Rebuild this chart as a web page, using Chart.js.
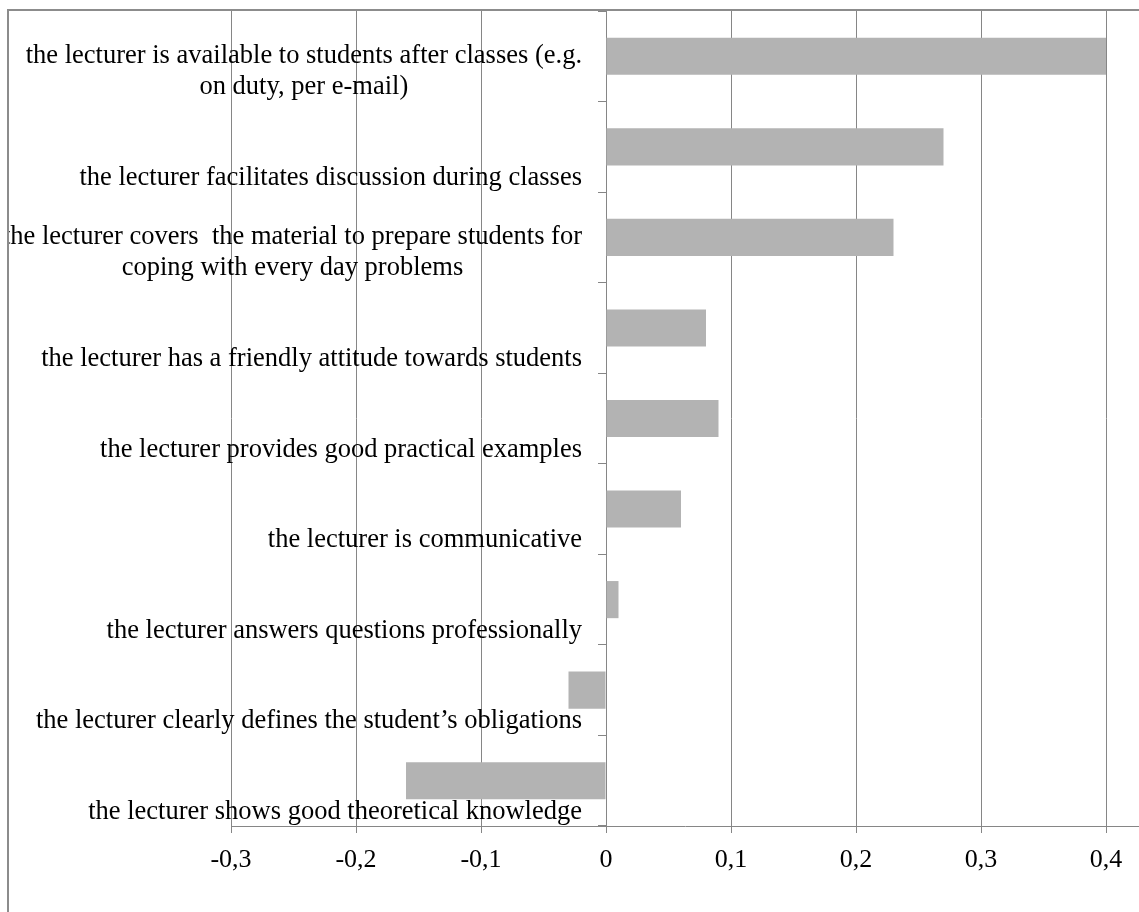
<!DOCTYPE html>
<html>
<head>
<meta charset="utf-8">
<title>Lecturer characteristics</title>
<script src="https://cdn.jsdelivr.net/npm/chart.js@4.4.1/dist/chart.umd.min.js"></script>
<style>
    html, body { margin: 0; padding: 0; background: #fff; overflow: hidden; }
    #wrap { width: 1139px; height: 912px; }
</style>
</head>
<body>
<div id="wrap"><canvas id="chart" width="1139" height="912"></canvas></div>
<script>
// Categories top to bottom, each one split into its printed lines
const categories = [
    ['the lecturer is available to students after classes (e.g.', 'on duty, per e-mail)'],
    ['the lecturer facilitates discussion during classes'],
    ['the lecturer covers  the material to prepare students for', 'coping with every day problems'],
    ['the lecturer has a friendly attitude towards students'],
    ['the lecturer provides good practical examples'],
    ['the lecturer is communicative'],
    ['the lecturer answers questions professionally'],
    ['the lecturer clearly defines the student\u2019s obligations'],
    ['the lecturer shows good theoretical knowledge']
];
const values = [0.40, 0.27, 0.23, 0.08, 0.09, 0.06, 0.01, -0.03, -0.16];
const xTicks = [-0.3, -0.2, -0.1, 0, 0.1, 0.2, 0.3, 0.4];
const xTickLabels = ['-0,3', '-0,2', '-0,1', '0', '0,1', '0,2', '0,3', '0,4'];

const GRID = '#868686';
const FONT = 'Liberation Serif';

// Category labels drawn Excel-style: lines centred on each other, bottom line fixed below the band centre
const categoryLabels = {
    id: 'categoryLabels',
    afterDatasetsDraw(chart) {
        const { ctx, scales: { x, y } } = chart;
        const right = x.getPixelForValue(0) - 24;
        ctx.save();
        ctx.beginPath();
        ctx.rect(9, 11, chart.width, chart.height);
        ctx.clip();
        ctx.font = '26.5px "' + FONT + '"';
        ctx.fillStyle = '#000';
        ctx.textAlign = 'center';
        ctx.textBaseline = 'alphabetic';
        categories.forEach((lines, i) => {
            const widest = Math.max(...lines.map(l => ctx.measureText(l).width));
            const cx = right - widest / 2;
            const base = y.getPixelForValue(i) + 38;
            lines.forEach((line, j) => {
                ctx.fillText(line, cx, base - (lines.length - 1 - j) * 31);
            });
        });
        ctx.restore();
    }
};

// Outer chart frame (cut off at right and bottom in the original)
const chartFrame = {
    id: 'chartFrame',
    afterDraw(chart) {
        const ctx = chart.ctx;
        ctx.save();
        ctx.strokeStyle = '#8c8c8c';
        ctx.lineWidth = 2;
        ctx.strokeRect(8, 10, chart.width + 50, chart.height + 50);
        ctx.restore();
    }
};

new Chart(document.getElementById('chart'), {
    type: 'bar',
    data: {
        labels: categories.map(l => l.join(' ')),
        datasets: [{
            data: values,
            backgroundColor: '#b3b3b3',
            borderWidth: 0,
            barPercentage: 0.41,
            categoryPercentage: 1
        }]
    },
    options: {
        indexAxis: 'y',
        responsive: false,
        animation: false,
        devicePixelRatio: 1,
        layout: { padding: { left: 231, right: 0, top: 11, bottom: 26 } },
        plugins: {
            legend: { display: false },
            tooltip: { enabled: false }
        },
        scales: {
            x: {
                type: 'linear',
                min: -0.3,
                max: 0.4264,
                afterBuildTicks: scale => {
                    scale.ticks = xTicks.map(v => ({ value: v }));
                },
                afterFit: scale => {
                    scale.height = 60;
                },
                grid: { color: GRID, lineWidth: 1, tickLength: 7 },
                border: { color: GRID, width: 1 },
                ticks: {
                    padding: 12,
                    color: '#000',
                    font: { family: FONT, size: 26 },
                    maxRotation: 0,
                    autoSkip: false,
                    callback: (v, i) => xTickLabels[i]
                }
            },
            y: {
                type: 'category',
                position: { x: 0 },
                offset: true,
                grid: { offset: true, drawOnChartArea: false, tickLength: 8, color: GRID },
                border: { color: GRID, width: 1 },
                ticks: { display: false }
            }
        }
    },
    plugins: [categoryLabels, chartFrame]
});
</script>
</body>
</html>
